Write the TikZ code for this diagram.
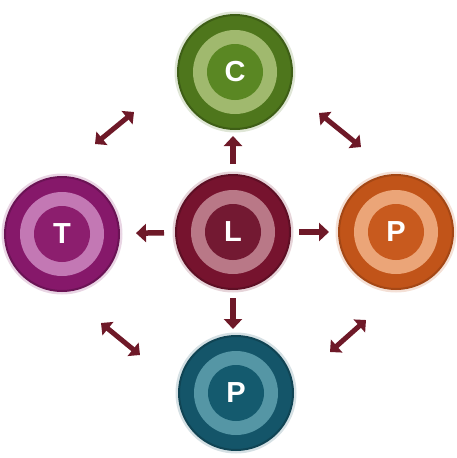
\documentclass[tikz,border=0pt]{standalone}
\usepackage{fontspec}
\setmainfont{Liberation Sans}
\usepackage{tikz}
\usetikzlibrary{arrows.meta}
\usepackage{xcolor}

\definecolor{arrowred}{HTML}{6E1928}
\definecolor{cOut}{HTML}{4E761C}
\definecolor{cRing}{HTML}{A0B96E}
\definecolor{cIn}{HTML}{5A8723}
\definecolor{lOut}{HTML}{76132E}
\definecolor{lRing}{HTML}{B97887}
\definecolor{lIn}{HTML}{731932}
\definecolor{tOut}{HTML}{86186A}
\definecolor{tRing}{HTML}{C378B4}
\definecolor{tIn}{HTML}{8C1E6E}
\definecolor{pOut}{HTML}{C15419}
\definecolor{pRing}{HTML}{EBA578}
\definecolor{pIn}{HTML}{C85A1E}
\definecolor{qOut}{HTML}{145569}
\definecolor{qRing}{HTML}{5596A5}
\definecolor{qIn}{HTML}{145A6E}

\begin{document}
\begin{tikzpicture}[x=1pt, y=-1pt,
    hub/.style={circle, minimum size=114pt, inner sep=0pt},
    glow/.style={circle, minimum size=121pt, inner sep=0pt, fill opacity=0.18},
    ring/.style={circle, minimum size=84pt, inner sep=0pt},
    core/.style={circle, minimum size=56pt, inner sep=0pt, text=white,
        font=\fontsize{29}{29}\selectfont\bfseries},
    arr/.style={arrowred, line width=5.5pt, -{Triangle[length=10pt, width=18pt]}},
    twoway/.style={arrowred, line width=5pt, {Triangle[length=9pt, width=17pt]}-{Triangle[length=9pt, width=17pt]}}]
    \useasboundingbox (0,0) rectangle (456,458);

    % The five hubs
    % Top (C)
    \node[glow, fill=cOut] at (235,72) {};
    \node[hub, fill=cOut, draw=cOut!80!black, line width=2pt] (C) at (235,72) {};
    \node[ring, fill=cRing] at (C) {};
    \node[core, fill=cIn] at (C) {C};

    % Centre (L)
    \node[glow, fill=lOut] at (233,232) {};
    \node[hub, fill=lOut, draw=lOut!80!black, line width=2pt] (L) at (233,232) {};
    \node[ring, fill=lRing] at (L) {};
    \node[core, fill=lIn] at (L) {L};

    % Left (T)
    \node[glow, fill=tOut] at (62,234) {};
    \node[hub, fill=tOut, draw=tOut!80!black, line width=2pt] (T) at (62,234) {};
    \node[ring, fill=tRing] at (T) {};
    \node[core, fill=tIn] at (T) {T};

    % Right (P)
    \node[glow, fill=pOut] at (396,232) {};
    \node[hub, fill=pOut, draw=pOut!85!black, line width=2pt] (P1) at (396,232) {};
    \node[ring, fill=pRing] at (P1) {};
    \node[core, fill=pIn] at (P1) {P};

    % Bottom (P)
    \node[glow, fill=qOut] at (236,393) {};
    \node[hub, fill=qOut, draw=qOut!80!black, line width=2pt] (P2) at (236,393) {};
    \node[ring, fill=qRing] at (P2) {};
    \node[core, fill=qIn] at (P2) {P};

    % Arrows out of the centre
    \draw[arr, shorten <=10pt, shorten >=6pt] (L) -- (L |- C.south);
    \draw[arr, shorten <=11pt, shorten >=16pt] (L) -- (T);
    \draw[arr, shorten <=8pt, shorten >=9pt] (L) -- (P1);
    \draw[arr, shorten <=8pt, shorten >=6pt] (L) -- (L |- P2.north);

    % Ends of the corner arrows
    \coordinate (tl1) at (95,144);
    \coordinate (tl2) at (134,112);
    \coordinate (tr1) at (319,113);
    \coordinate (tr2) at (361,147);
    \coordinate (bl1) at (101,323);
    \coordinate (bl2) at (140,355);
    \coordinate (br1) at (330,352);
    \coordinate (br2) at (366,320);

    % Two-way corner arrows
    \draw[twoway] (tl1) -- (tl2);
    \draw[twoway] (tr1) -- (tr2);
    \draw[twoway] (bl1) -- (bl2);
    \draw[twoway] (br1) -- (br2);
\end{tikzpicture}
\end{document}
